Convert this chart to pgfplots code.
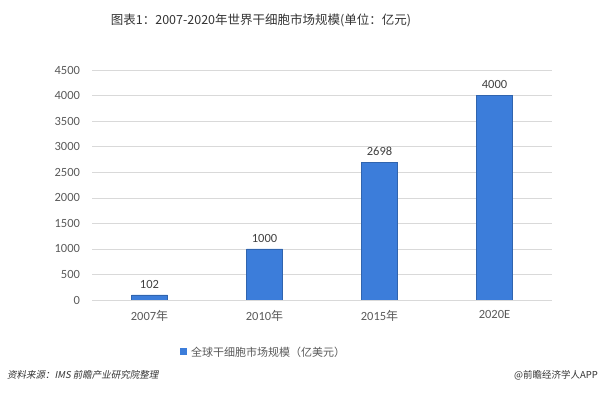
\documentclass[border=0pt]{standalone}
\usepackage{fontspec}
\setmainfont{Carlito}
\newfontfamily\cjk{Noto Sans CJK SC}
\newfontfamily\cjkit{Noto Sans CJK SC}[FakeSlant=0.2]
\usepackage{pgfplots}
\pgfplotsset{compat=1.18}
\definecolor{barblue}{HTML}{3C7DDA}
\definecolor{txtgray}{HTML}{595959}
\definecolor{gridgray}{HTML}{D9D9D9}
\begin{document}
\begin{tikzpicture}[x=1pt,y=1pt]
\path[use as bounding box] (0,0) rectangle (600,396);
\begin{axis}[
  at={(92pt,96pt)}, anchor=south west,
  scale only axis, width=460pt, height=230pt,
  xmin=-0.5, xmax=3.5, ymin=0, ymax=4500,
  ytick={0,500,...,4500},
  xtick=data,
  xticklabels={{2007{\cjk\fontsize{12}{14}\selectfont 年}},{2010{\cjk\fontsize{12}{14}\selectfont 年}},{2015{\cjk\fontsize{12}{14}\selectfont 年}},{2020E}},
  axis line style={draw=none},
  x axis line style={draw=gridgray},
  ymajorgrids, grid style={gridgray},
  major tick length=0pt,
  tick label style={font=\fontsize{12.5}{14}\selectfont, color=txtgray},
  /pgf/number format/assume math mode=true,
  /pgf/number format/set thousands separator={},
  yticklabel style={xshift=-8.5pt},
  xticklabel style={yshift=-7pt},
  nodes near coords,
  every node near coord/.append style={font=\fontsize{12.5}{14}\selectfont, color=black!75, yshift=3pt},
]
\addplot[ybar, bar width=36pt, fill=barblue, draw=barblue!80!black, line width=0.4pt]
  coordinates {(0,102) (1,1000) (2,2698) (3,4000)};
\end{axis}
\node[font=\cjk\fontsize{12.5}{14}\selectfont, color=black!80] at (261,376) {图表1：2007-2020年世界干细胞市场规模(单位：亿元)};
\fill[barblue] (180,40.5) rectangle (187,47.5);
\node[anchor=west, font=\cjk\fontsize{11}{13}\selectfont, color=txtgray, inner sep=0pt] at (191,44) {全球干细胞市场规模（亿美元）};
\node[anchor=west, font=\cjkit\fontsize{9.5}{11}\selectfont, color=black!80, inner sep=0pt] at (7,21) {资料来源：IMS 前瞻产业研究院整理};
\node[anchor=east, font=\cjk\fontsize{9.5}{11}\selectfont, color=black!80, inner sep=0pt] at (598,21) {@前瞻经济学人APP};
\end{tikzpicture}
\end{document}
